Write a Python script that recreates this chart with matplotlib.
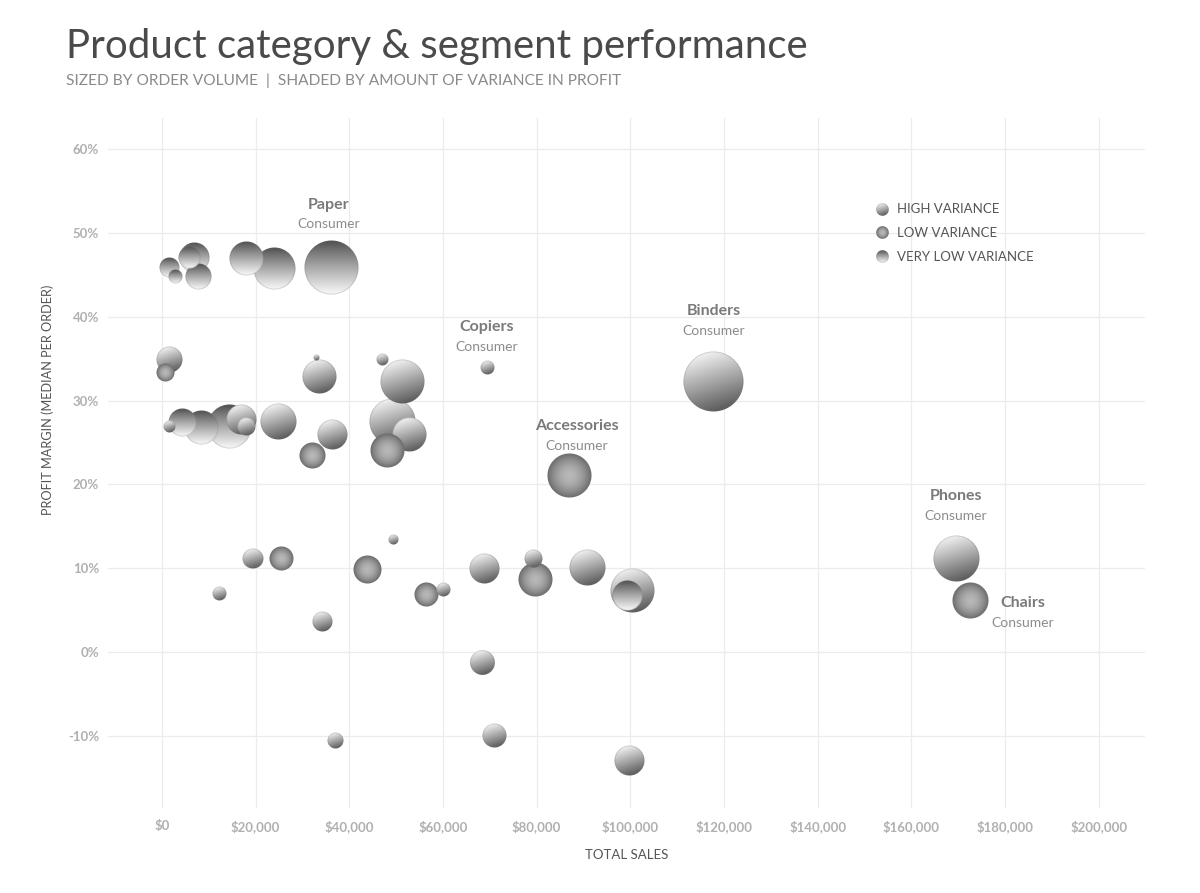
import numpy as np
import matplotlib
matplotlib.use("Agg")
import matplotlib.pyplot as plt
from matplotlib.offsetbox import OffsetImage, AnnotationBbox
from matplotlib.ticker import FuncFormatter

# Data
sales = [1700, 3000, 7000, 6000, 7900, 18100, 24100, 36300,
         1700, 850, 32900, 33700, 47000, 51400, 69600,
         1700, 4300, 8500, 14500, 17100, 18100, 24800, 36500, 32200, 49300, 52900, 48200,
         87100, 117800, 169700, 172700,
         12200, 19400, 25600, 34200, 43800, 49500, 56400, 60200, 68900, 79400, 79800,
         90900, 100500, 99300,
         68500, 37100, 70900, 99900]
margin = [45.9, 44.8, 47.1, 47.0, 44.8, 46.9, 45.8, 45.9,
          34.9, 33.3, 35.1, 32.9, 34.9, 32.3, 33.9,
          26.9, 27.4, 26.8, 26.9, 27.7, 26.9, 27.5, 25.9, 23.5, 27.5, 25.9, 24.0,
          21.0, 32.3, 11.2, 6.1,
          7.0, 11.2, 11.2, 3.6, 9.9, 13.4, 6.9, 7.5, 10.0, 11.2, 8.6,
          10.1, 7.3, 6.8,
          -1.3, -10.6, -10.0, -12.9]
orders = [123, 60, 278, 149, 209, 357, 544, 900,
          209, 100, 11, 357, 44, 598, 60,
          44, 242, 357, 598, 278, 100, 400, 278, 209, 653, 357, 357,
          598, 1111, 653, 400,
          60, 123, 178, 123, 242, 31, 178, 60, 278, 100, 357,
          400, 598, 278,
          190, 79, 178, 278]
variance = ["very low"] * 8 + \
           ["high", "low", "high", "high", "high", "high", "high"] + \
           ["high", "very low", "very low", "very low", "high", "high", "high", "high", "low", "high", "high", "low"] + \
           ["low", "high", "high", "low"] + \
           ["high", "high", "low", "high", "low", "high", "low", "high", "high", "high", "low"] + \
           ["high", "high", "very low"] + \
           ["high", "high", "high", "high"]

# labelled bubbles: index into the lists above
label_idx = [7, 14, 27, 28, 29, 30]
label_cat = ["Paper", "Copiers", "Accessories", "Binders", "Phones", "Chairs"]
label_seg = ["Consumer"] * 6

legend_names = ["HIGH VARIANCE", "LOW VARIANCE", "VERY LOW VARIANCE"]
legend_styles = ["high", "low", "very low"]

FONT = "Lato"


def sphere(r, style):
    """RGBA image of a shaded ball, r in pixels."""
    n = int(np.ceil(r)) * 2 + 3
    c = (n - 1) / 2
    yy, xx = np.mgrid[0:n, 0:n]
    dx = (xx - c) / r
    dy = (yy - c) / r
    d = np.hypot(dx, dy)
    alpha = np.clip((1 - d) * r + 0.5, 0, 1)
    if style == "high":
        t = np.clip((0.3 * dx + 0.95 * dy + 1) / 2, 0, 1)
        g = 0.95 - 0.60 * t
    elif style == "low":
        g = 0.72 - 0.30 * np.clip(d, 0, 1) ** 1.8
    else:
        t = np.clip((dy + 1) / 2, 0, 1)
        g = 0.30 + 0.68 * t ** 0.9
    rim = np.clip((d - (1 - 1.5 / r)) * r / 1.5, 0, 1)
    g = g * (1 - 0.35 * rim) + 0.35 * 0.45 * rim
    return np.dstack([g, g, g, alpha])


def radius_px(n_orders):
    return 0.9 * np.sqrt(n_orders)


fig = plt.figure(figsize=(12, 8.93), dpi=100)
ax = fig.add_axes([0.09, 0.0952, 0.864, 0.7727])

ax.set_xlim(-11500, 209800)
ax.set_ylim(-18.6, 63.7)
ax.set_xticks(np.arange(0, 200001, 20000))
ax.set_yticks(np.arange(-10, 61, 10))
ax.xaxis.set_major_formatter(FuncFormatter(lambda v, p: f"${v:,.0f}"))
ax.yaxis.set_major_formatter(FuncFormatter(lambda v, p: f"{v:.0f}%"))
ax.grid(True, color="#ececec", linewidth=0.9)
ax.set_axisbelow(True)
for s in ax.spines.values():
    s.set_visible(False)
ax.tick_params(length=0, colors="#b0b0b0", labelsize=9.5)
ax.tick_params(axis="x", pad=9)
ax.tick_params(axis="y", pad=6.5)
for lab in ax.get_xticklabels() + ax.get_yticklabels():
    lab.set_fontfamily(FONT)
    lab.set_fontweight("bold")

ax.set_xlabel("TOTAL SALES", fontfamily=FONT, fontsize=9.5, color="#555555")
ax.xaxis.set_label_coords(0.5, -0.06)
ax.set_ylabel("PROFIT MARGIN (MEDIAN PER ORDER)", fontfamily=FONT, fontsize=9.2, color="#555555")
ax.yaxis.set_label_coords(-0.052, 0.591)

# bubbles, largest first so small ones stay visible
order = sorted(range(len(sales)), key=lambda i: -orders[i])
for k, i in enumerate(order):
    img = OffsetImage(sphere(radius_px(orders[i]), variance[i]), dpi_cor=False)
    ab = AnnotationBbox(img, (sales[i], margin[i]), xycoords="data", frameon=False,
                        box_alignment=(0.5, 0.5), pad=0, zorder=3 + k * 0.01)
    ax.add_artist(ab)

# category labels (offsets in pixels)
offsets = {"Paper": (-3, 62, 43), "Copiers": (-1, 41, 21), "Accessories": (7, 50, 30),
           "Binders": (0, 70, 50), "Phones": (-1, 62, 42), "Chairs": (52, -2, -22)}
for i, cat, seg in zip(label_idx, label_cat, label_seg):
    ox, oc, os_ = offsets[cat]
    ax.annotate(cat, (sales[i], margin[i]), xytext=(ox, oc), textcoords="offset pixels",
                ha="center", va="center", fontfamily=FONT, fontweight="bold",
                fontsize=11.5, color="#7a7a7a", zorder=10)
    ax.annotate(seg, (sales[i], margin[i]), xytext=(ox, os_), textcoords="offset pixels",
                ha="center", va="center", fontfamily=FONT, fontsize=10,
                color="#8c8c8c", zorder=10)

# legend
for j, (name, style) in enumerate(zip(legend_names, legend_styles)):
    yf = 0.868 - j * 0.0345
    img = OffsetImage(sphere(6.3, style), dpi_cor=False)
    ax.add_artist(AnnotationBbox(img, (0.747, yf), xycoords="axes fraction",
                                 frameon=False, box_alignment=(0.5, 0.5), pad=0, zorder=5))
    ax.text(0.761, yf, name, transform=ax.transAxes, ha="left", va="center",
            fontfamily=FONT, fontsize=9.5, color="#555555")

fig.text(66 / 1200, 1 - 58 / 893, "Product category & segment performance",
         fontfamily=FONT, fontweight="normal", fontsize=29, color="#4a4a4a",
         ha="left", va="baseline")
fig.text(66 / 1200, 1 - 81 / 893,
         "SIZED BY ORDER VOLUME  |  SHADED BY AMOUNT OF VARIANCE IN PROFIT",
         fontfamily=FONT, fontsize=11.2, color="#8a8a8a", ha="left", va="center")

fig.savefig("out.png", dpi=100)
